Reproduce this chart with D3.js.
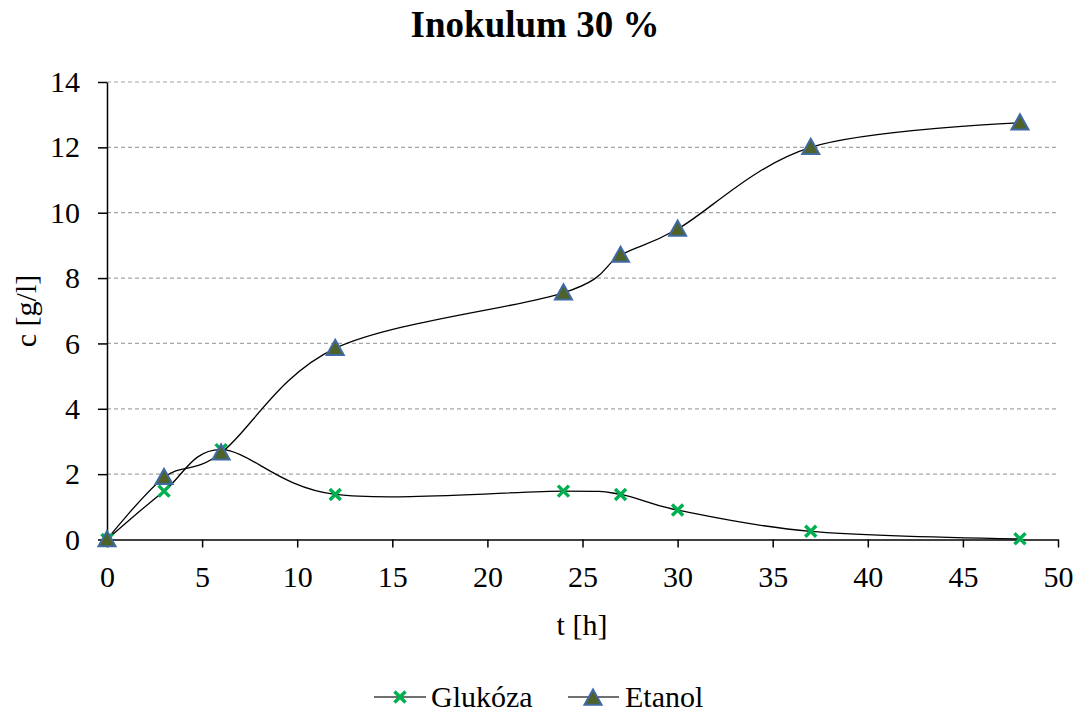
<!DOCTYPE html>
<html><head><meta charset="utf-8">
<script src="https://cdn.jsdelivr.net/npm/d3@7"></script>
<style>body{margin:0;background:#fff}svg{font-family:"Liberation Serif","Times New Roman",serif}</style>
</head><body>
<svg id="c" width="1081" height="712"></svg>
<script>
const tHours = [0, 3, 6, 12, 24, 27, 30, 37, 48];
const glukoza = [0, 1.48, 2.75, 1.38, 1.48, 1.38, 0.9, 0.25, 0.02];
const etanol = [0, 1.9, 2.65, 5.85, 7.55, 8.7, 9.5, 12.0, 12.75];
const xTicks = [0, 5, 10, 15, 20, 25, 30, 35, 40, 45, 50];
const yTicks = [0, 2, 4, 6, 8, 10, 12, 14];

const FS = 30;
const svg = d3.select("#c");
const x = d3.scaleLinear().domain([0, 50]).range([107, 1058]);
const y = d3.scaleLinear().domain([0, 14]).range([539.5, 82]);

// gridlines
svg.append("g").selectAll("line").data(yTicks.filter(d => d > 0)).join("line")
  .attr("x1", x(0)).attr("x2", x(50)).attr("y1", d => y(d)).attr("y2", d => y(d))
  .attr("stroke", "#a6a6a6").attr("stroke-width", 1.2).attr("stroke-dasharray", "4,3");

// axes
const xAxis = d3.axisBottom(x).tickValues(xTicks).tickSize(8).tickSizeOuter(0).tickPadding(18);
const gx = svg.append("g").attr("transform", `translate(0,${y(0)})`).call(xAxis);
const yAxis = d3.axisLeft(y).tickValues(yTicks).tickSize(9).tickSizeOuter(0).tickPadding(18);
const gy = svg.append("g").attr("transform", `translate(${x(0)},0)`).call(yAxis);
[gx, gy].forEach(g => {
  g.selectAll("path,line").attr("stroke", "#000").attr("stroke-width", 1.5);
  g.selectAll("text").attr("font-size", FS).attr("fill", "#000").attr("font-family", "Liberation Serif, serif");
});

// lines
const curve = d3.curveCardinal.tension(0);
const line = d3.line().x((d, i) => x(tHours[i])).y(d => y(d)).curve(curve);
svg.append("path").datum(glukoza).attr("d", line).attr("fill", "none").attr("stroke", "#000").attr("stroke-width", 1.3);
svg.append("path").datum(etanol).attr("d", line).attr("fill", "none").attr("stroke", "#000").attr("stroke-width", 1.3);

// markers
const green = "#00b050";
function xMark(g, cx, cy, s) {
  g.append("path").attr("d", `M${cx - s},${cy - s}L${cx + s},${cy + s}M${cx - s},${cy + s}L${cx + s},${cy - s}`)
    .attr("stroke", green).attr("stroke-width", 3.5).attr("fill", "none");
}
function triMark(g, cx, cy, s) {
  g.append("path").attr("d", `M${cx},${cy - s}L${cx + s},${cy + s * 0.78}L${cx - s},${cy + s * 0.78}Z`)
    .attr("fill", "#4f6228").attr("stroke", "#3f6aa3").attr("stroke-width", 2);
}
const gm = svg.append("g");
glukoza.forEach((v, i) => xMark(gm, x(tHours[i]), y(v), 5.5));
etanol.forEach((v, i) => triMark(gm, x(tHours[i]), y(v), 8.5));

// title and axis titles
svg.append("text").attr("x", 535).attr("y", 37).attr("text-anchor", "middle")
  .attr("font-size", 37).attr("font-weight", "bold").text("Inokulum 30 %");
svg.append("text").attr("x", 582).attr("y", 635).attr("text-anchor", "middle")
  .attr("font-size", FS).text("t [h]");
svg.append("text").attr("transform", "translate(36,311) rotate(-90)").attr("text-anchor", "middle")
  .attr("font-size", FS).text("c [g/l]");

// legend
const lg = svg.append("g");
lg.append("line").attr("x1", 374).attr("x2", 426).attr("y1", 697).attr("y2", 697).attr("stroke", "#404040").attr("stroke-width", 1.3);
xMark(lg, 400, 697, 5.5);
lg.append("text").attr("x", 431).attr("y", 707).attr("font-size", FS).text("Glukóza");
lg.append("line").attr("x1", 568).attr("x2", 619).attr("y1", 697).attr("y2", 697).attr("stroke", "#404040").attr("stroke-width", 1.3);
triMark(lg, 593, 698, 8.5);
lg.append("text").attr("x", 625).attr("y", 707).attr("font-size", FS).text("Etanol");
</script>
</body></html>
